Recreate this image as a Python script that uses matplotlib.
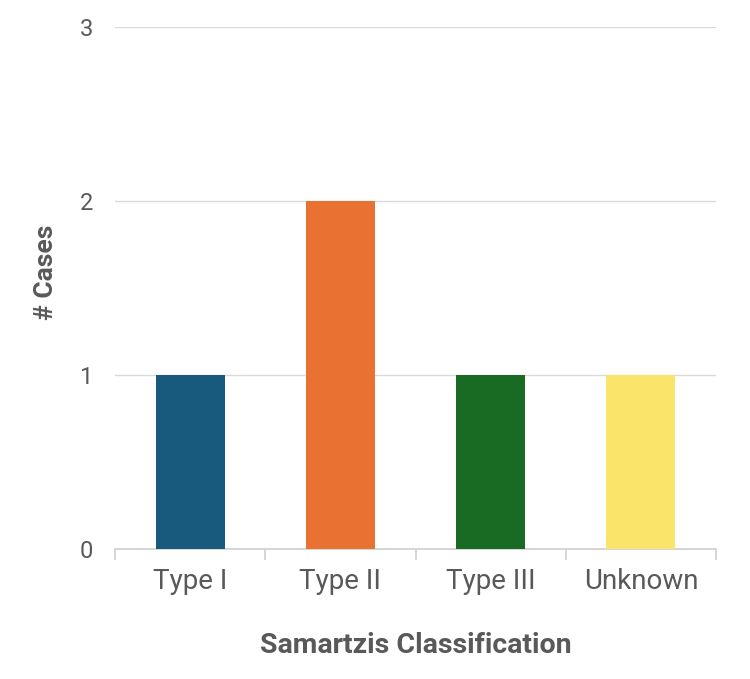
import matplotlib
matplotlib.use("Agg")
import matplotlib.pyplot as plt

categories = ["Type I", "Type II", "Type III", "Unknown"]
cases = [1, 2, 1, 1]
colors = ["#185a7d", "#e97132", "#196b24", "#fae56a"]

plt.rcParams['font.family'] = ['Roboto', 'DejaVu Sans']

fig = plt.figure(figsize=(7.5, 6.79), dpi=100)
ax = fig.add_axes([0.1533, 0.1915, 0.8014, 0.7687])

x = list(range(len(categories)))
ax.bar(x, cases, width=0.46, color=colors, zorder=3)

ax.set_xlim(-0.5, len(categories) - 0.5)
ax.set_ylim(0, 3)
ax.set_yticks([0, 1, 2, 3])
ax.yaxis.grid(True, color="#d9d9d9", linewidth=1, zorder=0)
for s in ["top", "right", "left"]:
    ax.spines[s].set_visible(False)
ax.spines["bottom"].set_color("#d0d0d0")
ax.spines["bottom"].set_linewidth(1.2)

ax.set_xticks(x)
ax.set_xticklabels(categories)
ax.tick_params(axis="x", length=0, pad=14, labelsize=20, labelcolor="#595959")
ax.set_xticks([i - 0.5 for i in range(len(categories) + 1)], minor=True)
ax.tick_params(axis="x", which="minor", length=8, color="#d0d0d0", width=1.2)
ax.tick_params(axis="y", length=0, pad=16, labelsize=17, labelcolor="#595959")

ax.set_ylabel("# Cases", fontsize=19, fontweight="bold", color="#595959")
ax.yaxis.set_label_coords(-0.095, 0.53)
ax.set_xlabel("Samartzis Classification", fontsize=20.5, fontweight="bold", color="#595959", labelpad=26)

fig.savefig("out.png", dpi=100)
